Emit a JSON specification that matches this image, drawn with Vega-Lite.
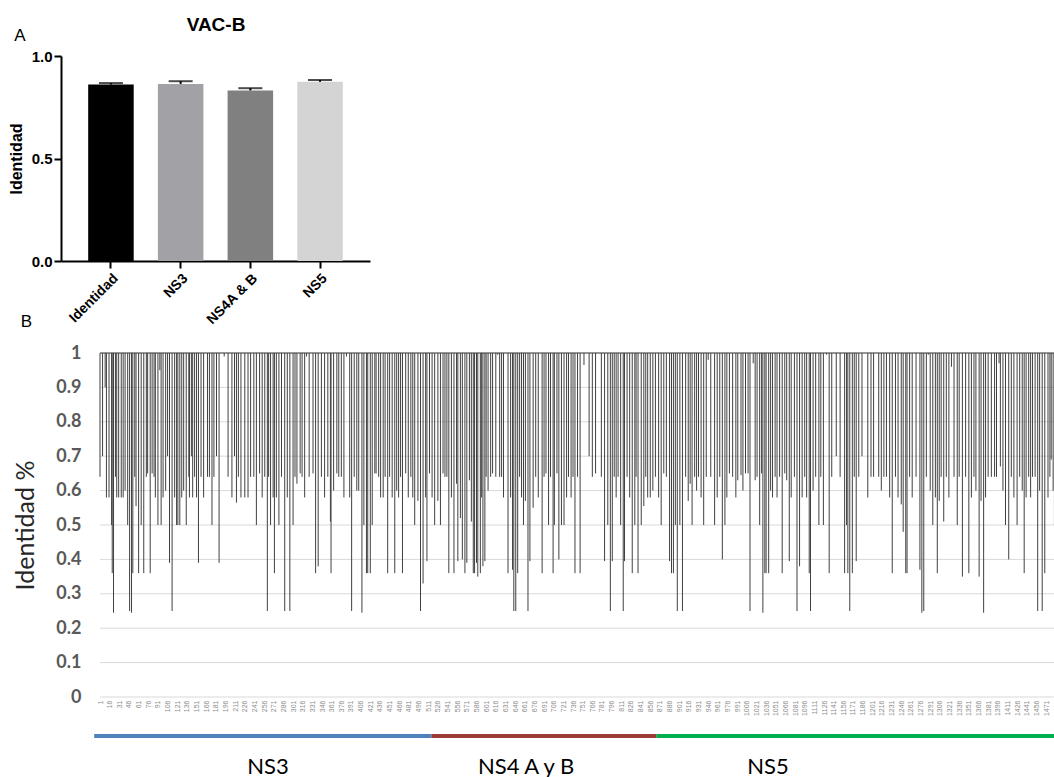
{
  "$schema": "https://vega.github.io/schema/vega-lite/v6.json",
  "padding": {"left": 8, "top": 15, "right": 0, "bottom": 0},
  "background": "white",
  "config": {"font": "Liberation Sans", "view": {"stroke": null}},
  "spacing": -15,
  "resolve": {"scale": {"color": "independent", "x": "independent", "y": "independent"}},
  "vconcat": [
    {
      "width": 309,
      "height": 205,
      "title": {"text": "A", "anchor": "start", "frame": "bounds", "fontSize": 17, "fontWeight": "normal", "color": "black", "offset": -30, "dx": 6},
      "data": {"values": [
        {"gene": "Identidad", "mean": 0.861, "upper": 0.868},
        {"gene": "NS3", "mean": 0.864, "upper": 0.877},
        {"gene": "NS4A & B", "mean": 0.832, "upper": 0.843},
        {"gene": "NS5", "mean": 0.874, "upper": 0.883}
      ]},
      "layer": [
        {
          "mark": {"type": "bar"},
          "encoding": {
            "x": {"field": "gene", "type": "nominal", "sort": null,
              "scale": {"paddingInner": 0.347, "paddingOuter": 0.39},
              "axis": {"title": null, "labelAngle": -45, "labelFontSize": 14, "labelFontWeight": "bold", "labelColor": "black", "tickSize": 7, "tickWidth": 2, "tickColor": "black", "domainColor": "black", "domainWidth": 2, "labelPadding": 3}},
            "y": {"field": "mean", "type": "quantitative", "scale": {"domain": [0, 1], "nice": false},
              "axis": {"title": "Identidad", "titleFontSize": 16, "titleFontWeight": "bold", "titleColor": "black", "titlePadding": 7, "values": [0, 0.5, 1], "format": ".1f", "labelFontSize": 15, "labelFontWeight": "bold", "labelColor": "black", "tickSize": 7, "tickWidth": 2, "tickColor": "black", "domainColor": "black", "domainWidth": 2, "grid": false, "labelPadding": 2}},
            "color": {"field": "gene", "type": "nominal",
              "scale": {"domain": ["Identidad", "NS3", "NS4A & B", "NS5"], "range": ["#000000", "#a1a1a6", "#808080", "#d4d4d4"]},
              "legend": null}
          }
        },
        {
          "mark": {"type": "rule", "color": "black", "strokeWidth": 2},
          "encoding": {
            "x": {"field": "gene", "type": "nominal", "sort": null,
              "axis": {"orient": "top", "title": "VAC-B", "titleFontSize": 19, "titleFontWeight": "bold", "titleColor": "black", "titlePadding": 22, "labels": false, "ticks": false, "domain": false}},
            "y": {"field": "mean", "type": "quantitative"},
            "y2": {"field": "upper"}
          }
        },
        {
          "mark": {"type": "tick", "color": "black", "thickness": 2, "size": 24},
          "encoding": {
            "x": {"field": "gene", "type": "nominal", "sort": null, "axis": null},
            "y": {"field": "upper", "type": "quantitative"}
          }
        }
      ],
      "resolve": {"axis": {"x": "independent"}}
    },
    {
      "spacing": 18,
      "vconcat": [
        {
          "width": 996,
          "height": 344,
          "title": {"text": "B", "anchor": "start", "frame": "bounds", "fontSize": 17, "fontWeight": "normal", "color": "black", "offset": 13, "dx": 7},
          "layer": [
            {
              "data": {"values": [
                {"grid": 0}, {"grid": 0.1}, {"grid": 0.2}, {"grid": 0.3}, {"grid": 0.4}, {"grid": 0.5},
                {"grid": 0.6}, {"grid": 0.7}, {"grid": 0.8}, {"grid": 0.9}, {"grid": 1}
              ]},
              "mark": {"type": "rule", "color": "#d9d9d9", "strokeWidth": 1},
              "encoding": {
                "x": {"datum": 1, "type": "quantitative",
                  "scale": {"domain": [-59.6, 1488], "nice": false, "zero": false},
                  "axis": {"title": null, "values": [1,16,31,46,61,76,91,106,121,136,151,166,181,196,211,226,241,256,271,286,301,316,331,346,361,376,391,406,421,436,451,466,481,496,511,526,541,556,571,586,601,616,631,646,661,676,691,706,721,736,751,766,781,796,811,826,841,856,871,886,901,916,931,946,961,976,991,1006,1021,1036,1051,1066,1081,1096,1111,1126,1141,1156,1171,1186,1201,1216,1231,1246,1261,1276,1291,1306,1321,1336,1351,1366,1381,1396,1411,1426,1441,1456,1471],
                    "tickCount": 200, "format": "d", "labelAngle": -90, "labelFontSize": 7, "labelColor": "#8c8c8c", "labelPadding": 3, "ticks": false, "domain": false, "grid": false, "labelOverlap": false, "labelFlush": false}},
                "x2": {"datum": 1488},
                "y": {"field": "grid", "type": "quantitative",
                  "scale": {"domain": [0, 1], "nice": false},
                  "axis": {"title": "Identidad %", "titleFont": "Lato", "titleFontSize": 25, "titleFontWeight": "normal", "titleColor": "#262626", "titlePadding": 17, "offset": -39,
                    "values": [0, 0.1, 0.2, 0.3, 0.4, 0.5, 0.6, 0.7, 0.8, 0.9, 1], "tickCount": 20, "format": "~g", "labelOverlap": false,
                    "labelFont": "Lato", "labelFontSize": 18, "labelFontWeight": "bold", "labelColor": "#595959", "labelPadding": 19,
                    "ticks": false, "domain": false, "grid": false}}
              }
            },
            {
              "data": {"values": [
                {"pos":1,"ident":0.64},{"pos":5,"ident":0.7},{"pos":9,"ident":0.9},{"pos":11,"ident":0.58},{"pos":15,"ident":0.58},{"pos":19,"ident":0.5},{"pos":20,"ident":0.36},{"pos":22,"ident":0.245},{"pos":25,"ident":0.64},{"pos":27,"ident":0.58},{"pos":30,"ident":0.58},{"pos":34,"ident":0.58},{"pos":37,"ident":0.58},{"pos":40,"ident":0.6},{"pos":44,"ident":0.5},{"pos":47,"ident":0.25},{"pos":50,"ident":0.245},{"pos":52,"ident":0.36},{"pos":55,"ident":0.64},{"pos":57,"ident":0.555},{"pos":61,"ident":0.36},{"pos":65,"ident":0.5},{"pos":69,"ident":0.36},{"pos":73,"ident":0.64},{"pos":75,"ident":0.65},{"pos":79,"ident":0.36},{"pos":82,"ident":0.65},{"pos":85,"ident":0.64},{"pos":87,"ident":0.58},{"pos":91,"ident":0.5},{"pos":94,"ident":0.95},{"pos":96,"ident":0.5},{"pos":99,"ident":0.58},
                {"pos":103,"ident":0.6},{"pos":106,"ident":0.7},{"pos":109,"ident":0.39},{"pos":113,"ident":0.25},{"pos":117,"ident":0.58},{"pos":120,"ident":0.5},{"pos":122,"ident":0.5},{"pos":125,"ident":0.5},{"pos":128,"ident":0.58},{"pos":131,"ident":0.6},{"pos":135,"ident":0.5},{"pos":139,"ident":0.64},{"pos":140,"ident":0.58},{"pos":143,"ident":0.7},{"pos":145,"ident":0.58},{"pos":148,"ident":0.64},{"pos":151,"ident":0.58},{"pos":154,"ident":0.39},{"pos":158,"ident":0.64},{"pos":162,"ident":0.58},{"pos":168,"ident":0.64},{"pos":171,"ident":0.64},{"pos":175,"ident":0.5},{"pos":178,"ident":0.64},{"pos":182,"ident":0.7},{"pos":186,"ident":0.39},{"pos":194,"ident":0.99},
                {"pos":200,"ident":0.64},{"pos":206,"ident":0.58},{"pos":210,"ident":0.7},{"pos":213,"ident":0.565},{"pos":216,"ident":0.64},{"pos":220,"ident":0.58},{"pos":226,"ident":0.58},{"pos":231,"ident":0.58},{"pos":235,"ident":0.64},{"pos":240,"ident":0.64},{"pos":244,"ident":0.5},{"pos":249,"ident":0.65},{"pos":253,"ident":0.58},{"pos":257,"ident":0.64},{"pos":261,"ident":0.25},{"pos":263,"ident":0.64},{"pos":266,"ident":0.5},{"pos":270,"ident":0.58},{"pos":272,"ident":0.36},{"pos":275,"ident":0.58},{"pos":279,"ident":0.5},{"pos":283,"ident":0.64},{"pos":288,"ident":0.25},{"pos":292,"ident":0.58},{"pos":296,"ident":0.25},
                {"pos":301,"ident":0.5},{"pos":304,"ident":0.64},{"pos":307,"ident":0.62},{"pos":312,"ident":0.65},{"pos":315,"ident":0.64},{"pos":319,"ident":0.58},{"pos":322,"ident":0.99},{"pos":326,"ident":0.64},{"pos":332,"ident":0.65},{"pos":336,"ident":0.36},{"pos":340,"ident":0.38},{"pos":345,"ident":0.64},{"pos":350,"ident":0.58},{"pos":355,"ident":0.64},{"pos":359,"ident":0.51},{"pos":360,"ident":0.36},{"pos":364,"ident":0.6},{"pos":369,"ident":0.65},{"pos":372,"ident":0.64},{"pos":376,"ident":0.64},{"pos":380,"ident":0.58},{"pos":384,"ident":0.99},{"pos":389,"ident":0.58},{"pos":392,"ident":0.25},{"pos":396,"ident":0.64},
                {"pos":400,"ident":0.6},{"pos":403,"ident":0.6},{"pos":408,"ident":0.245},{"pos":411,"ident":0.5},{"pos":415,"ident":0.36},{"pos":417,"ident":0.36},{"pos":421,"ident":0.36},{"pos":424,"ident":0.5},{"pos":428,"ident":0.65},{"pos":430,"ident":0.65},{"pos":434,"ident":0.64},{"pos":437,"ident":0.58},{"pos":441,"ident":0.58},{"pos":444,"ident":0.64},{"pos":448,"ident":0.36},{"pos":451,"ident":0.64},{"pos":455,"ident":0.58},{"pos":459,"ident":0.36},{"pos":462,"ident":0.6},{"pos":465,"ident":0.58},{"pos":468,"ident":0.64},{"pos":471,"ident":0.36},{"pos":476,"ident":0.65},{"pos":480,"ident":0.58},{"pos":484,"ident":0.64},{"pos":487,"ident":0.58},{"pos":490,"ident":0.5},{"pos":495,"ident":0.57},{"pos":499,"ident":0.25},
                {"pos":503,"ident":0.33},{"pos":507,"ident":0.58},{"pos":509,"ident":0.395},{"pos":513,"ident":0.65},{"pos":517,"ident":0.58},{"pos":521,"ident":0.5},{"pos":526,"ident":0.57},{"pos":530,"ident":0.5},{"pos":534,"ident":0.65},{"pos":537,"ident":0.64},{"pos":540,"ident":0.64},{"pos":543,"ident":0.36},{"pos":547,"ident":0.58},{"pos":551,"ident":0.36},{"pos":555,"ident":0.62},{"pos":557,"ident":0.395},{"pos":561,"ident":0.52},{"pos":564,"ident":0.4},{"pos":568,"ident":0.36},{"pos":571,"ident":0.39},{"pos":575,"ident":0.63},{"pos":578,"ident":0.51},{"pos":581,"ident":0.36},{"pos":583,"ident":0.36},{"pos":586,"ident":0.39},{"pos":588,"ident":0.35},{"pos":592,"ident":0.36},{"pos":594,"ident":0.58},{"pos":596,"ident":0.38},{"pos":599,"ident":0.395},
                {"pos":601,"ident":0.64},{"pos":604,"ident":0.6},{"pos":608,"ident":0.64},{"pos":611,"ident":0.65},{"pos":616,"ident":0.64},{"pos":619,"ident":0.995},{"pos":622,"ident":0.64},{"pos":625,"ident":0.64},{"pos":628,"ident":0.58},{"pos":635,"ident":0.36},{"pos":639,"ident":0.58},{"pos":642,"ident":0.37},{"pos":644,"ident":0.25},{"pos":647,"ident":0.25},{"pos":650,"ident":0.36},{"pos":653,"ident":0.64},{"pos":656,"ident":0.58},{"pos":659,"ident":0.5},{"pos":662,"ident":0.57},{"pos":666,"ident":0.25},{"pos":669,"ident":0.395},{"pos":674,"ident":0.55},{"pos":678,"ident":0.64},{"pos":682,"ident":0.58},{"pos":688,"ident":0.36},{"pos":691,"ident":0.64},{"pos":694,"ident":0.65},{"pos":698,"ident":0.5},
                {"pos":701,"ident":0.64},{"pos":705,"ident":0.36},{"pos":707,"ident":0.5},{"pos":711,"ident":0.65},{"pos":714,"ident":0.4},{"pos":718,"ident":0.5},{"pos":722,"ident":0.5},{"pos":726,"ident":0.58},{"pos":729,"ident":0.64},{"pos":733,"ident":0.58},{"pos":736,"ident":0.64},{"pos":739,"ident":0.36},{"pos":743,"ident":0.64},{"pos":747,"ident":0.36},{"pos":753,"ident":0.965},{"pos":761,"ident":0.7},{"pos":766,"ident":0.64},{"pos":771,"ident":0.65},{"pos":780,"ident":0.64},{"pos":785,"ident":0.395},{"pos":790,"ident":0.5},{"pos":794,"ident":0.25},{"pos":797,"ident":0.395},
                {"pos":800,"ident":0.64},{"pos":803,"ident":0.58},{"pos":806,"ident":0.64},{"pos":810,"ident":0.5},{"pos":814,"ident":0.25},{"pos":816,"ident":0.395},{"pos":820,"ident":0.64},{"pos":824,"ident":0.58},{"pos":828,"ident":0.36},{"pos":832,"ident":0.5},{"pos":834,"ident":0.64},{"pos":837,"ident":0.36},{"pos":842,"ident":0.5},{"pos":846,"ident":0.555},{"pos":849,"ident":0.64},{"pos":852,"ident":0.58},{"pos":856,"ident":0.58},{"pos":860,"ident":0.6},{"pos":864,"ident":0.64},{"pos":869,"ident":0.58},{"pos":873,"ident":0.5},{"pos":877,"ident":0.65},{"pos":881,"ident":0.64},{"pos":886,"ident":0.395},{"pos":889,"ident":0.36},{"pos":892,"ident":0.36},{"pos":895,"ident":0.5},{"pos":898,"ident":0.25},
                {"pos":902,"ident":0.5},{"pos":906,"ident":0.25},{"pos":911,"ident":0.64},{"pos":915,"ident":0.57},{"pos":918,"ident":0.62},{"pos":921,"ident":0.5},{"pos":925,"ident":0.64},{"pos":928,"ident":0.6},{"pos":931,"ident":0.64},{"pos":935,"ident":0.58},{"pos":939,"ident":0.5},{"pos":943,"ident":0.64},{"pos":946,"ident":0.98},{"pos":950,"ident":0.64},{"pos":956,"ident":0.5},{"pos":960,"ident":0.58},{"pos":964,"ident":0.64},{"pos":968,"ident":0.4},{"pos":972,"ident":0.5},{"pos":975,"ident":0.58},{"pos":979,"ident":0.65},{"pos":984,"ident":0.64},{"pos":989,"ident":0.58},{"pos":992,"ident":0.63},{"pos":997,"ident":0.645},
                {"pos":1000,"ident":0.6},{"pos":1004,"ident":0.65},{"pos":1008,"ident":0.65},{"pos":1011,"ident":0.25},{"pos":1016,"ident":0.97},{"pos":1019,"ident":0.63},{"pos":1022,"ident":0.64},{"pos":1026,"ident":0.5},{"pos":1029,"ident":0.65},{"pos":1031,"ident":0.245},{"pos":1034,"ident":0.36},{"pos":1036,"ident":0.36},{"pos":1040,"ident":0.36},{"pos":1043,"ident":0.6},{"pos":1046,"ident":0.58},{"pos":1050,"ident":0.64},{"pos":1053,"ident":0.58},{"pos":1057,"ident":0.64},{"pos":1061,"ident":0.36},{"pos":1065,"ident":0.65},{"pos":1068,"ident":0.63},{"pos":1072,"ident":0.395},{"pos":1075,"ident":0.58},{"pos":1080,"ident":0.64},{"pos":1084,"ident":0.25},{"pos":1088,"ident":0.38},{"pos":1092,"ident":0.58},{"pos":1096,"ident":0.64},{"pos":1099,"ident":0.58},
                {"pos":1103,"ident":0.36},{"pos":1105,"ident":0.25},{"pos":1109,"ident":0.6},{"pos":1113,"ident":0.64},{"pos":1118,"ident":0.5},{"pos":1121,"ident":0.64},{"pos":1125,"ident":0.5},{"pos":1130,"ident":0.995},{"pos":1134,"ident":0.36},{"pos":1138,"ident":0.64},{"pos":1145,"ident":0.7},{"pos":1151,"ident":0.64},{"pos":1158,"ident":0.36},{"pos":1161,"ident":0.5},{"pos":1163,"ident":0.36},{"pos":1166,"ident":0.25},{"pos":1170,"ident":0.36},{"pos":1173,"ident":0.64},{"pos":1176,"ident":0.395},{"pos":1180,"ident":0.64},{"pos":1185,"ident":0.7},{"pos":1194,"ident":0.58},{"pos":1199,"ident":0.64},
                {"pos":1203,"ident":0.64},{"pos":1211,"ident":0.64},{"pos":1215,"ident":0.6},{"pos":1219,"ident":0.64},{"pos":1223,"ident":0.64},{"pos":1228,"ident":0.58},{"pos":1232,"ident":0.36},{"pos":1237,"ident":0.64},{"pos":1241,"ident":0.58},{"pos":1246,"ident":0.56},{"pos":1249,"ident":0.48},{"pos":1253,"ident":0.36},{"pos":1255,"ident":0.36},{"pos":1259,"ident":0.64},{"pos":1263,"ident":0.58},{"pos":1269,"ident":0.64},{"pos":1275,"ident":0.37},{"pos":1278,"ident":0.245},{"pos":1281,"ident":0.25},{"pos":1285,"ident":0.64},{"pos":1288,"ident":0.995},{"pos":1291,"ident":0.6},{"pos":1295,"ident":0.5},{"pos":1299,"ident":0.58},
                {"pos":1302,"ident":0.36},{"pos":1305,"ident":0.57},{"pos":1308,"ident":0.64},{"pos":1312,"ident":0.51},{"pos":1316,"ident":0.64},{"pos":1320,"ident":0.58},{"pos":1324,"ident":0.96},{"pos":1328,"ident":0.64},{"pos":1333,"ident":0.5},{"pos":1336,"ident":0.64},{"pos":1341,"ident":0.35},{"pos":1346,"ident":0.64},{"pos":1351,"ident":0.36},{"pos":1355,"ident":0.58},{"pos":1359,"ident":0.64},{"pos":1362,"ident":0.6},{"pos":1367,"ident":0.35},{"pos":1370,"ident":0.57},{"pos":1374,"ident":0.245},{"pos":1377,"ident":0.58},{"pos":1381,"ident":0.64},{"pos":1386,"ident":0.64},{"pos":1391,"ident":0.64},{"pos":1394,"ident":0.64},{"pos":1398,"ident":0.97},
                {"pos":1400,"ident":0.67},{"pos":1404,"ident":0.6},{"pos":1408,"ident":0.5},{"pos":1413,"ident":0.4},{"pos":1417,"ident":0.64},{"pos":1421,"ident":0.58},{"pos":1426,"ident":0.5},{"pos":1430,"ident":0.64},{"pos":1434,"ident":0.6},{"pos":1437,"ident":0.36},{"pos":1440,"ident":0.58},{"pos":1444,"ident":0.64},{"pos":1447,"ident":0.58},{"pos":1450,"ident":0.64},{"pos":1454,"ident":0.64},{"pos":1458,"ident":0.25},{"pos":1461,"ident":0.6},{"pos":1465,"ident":0.25},{"pos":1469,"ident":0.36},{"pos":1474,"ident":0.58},{"pos":1477,"ident":0.64},{"pos":1479,"ident":0.69},{"pos":1482,"ident":0.6},{"pos":1484,"ident":0.5},{"pos":1487,"ident":0.64}
              ]},
              "mark": {"type": "rule", "color": "#404040", "strokeWidth": 1},
              "encoding": {
                "x": {"field": "pos", "type": "quantitative"},
                "y": {"field": "ident", "type": "quantitative"},
                "y2": {"datum": 1}
              }
            },
            {
              "data": {"values": [{"grid": 1}]},
              "mark": {"type": "rule", "color": "#404040", "strokeWidth": 1},
              "encoding": {
                "x": {"datum": 1, "type": "quantitative"},
                "x2": {"datum": 1488},
                "y": {"field": "grid", "type": "quantitative"}
              }
            }
          ]
        },
        {
          "width": 996,
          "height": 31,
          "data": {"values": [
            {"region": "NS3", "start": -8, "end": 516, "mid": 262},
            {"region": "NS4 A y B", "start": 516, "end": 866, "mid": 663},
            {"region": "NS5", "start": 866, "end": 1488, "mid": 1039}
          ]},
          "layer": [
            {
              "mark": {"type": "rule", "strokeWidth": 4},
              "encoding": {
                "x": {"field": "start", "type": "quantitative", "scale": {"domain": [-59.6, 1488], "nice": false, "zero": false}, "axis": null},
                "x2": {"field": "end"},
                "y": {"datum": 1, "type": "quantitative", "scale": {"domain": [0, 1]}, "axis": null},
                "color": {"field": "region", "type": "nominal",
                  "scale": {"domain": ["NS3", "NS4 A y B", "NS5"], "range": ["#4f81bd", "#9b3b38", "#00b050"]},
                  "legend": null}
              }
            },
            {
              "mark": {"type": "text", "font": "Lato", "fontSize": 22, "color": "black"},
              "encoding": {
                "x": {"field": "mid", "type": "quantitative"},
                "y": {"datum": 0, "type": "quantitative"},
                "text": {"field": "region"}
              }
            }
          ]
        }
      ],
      "resolve": {"scale": {"color": "independent"}}
    }
  ]
}
